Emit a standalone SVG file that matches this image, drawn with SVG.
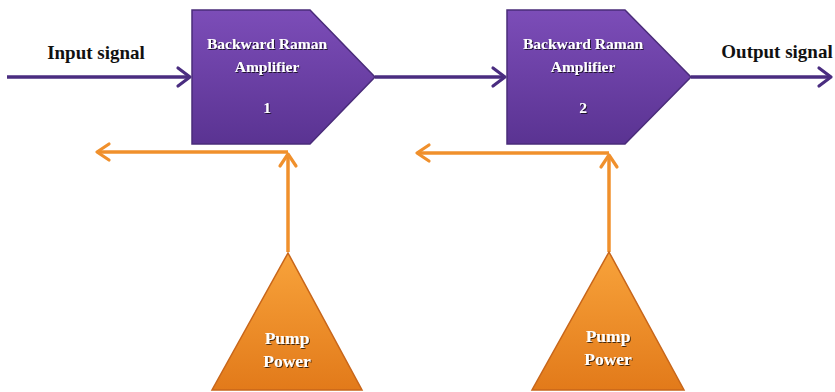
<svg xmlns="http://www.w3.org/2000/svg" width="835" height="392" viewBox="0 0 835 392">
<defs>
<linearGradient id="gPurple" x1="0" y1="0" x2="0" y2="1">
<stop offset="0" stop-color="#7C4DB8"/>
<stop offset="1" stop-color="#5A3392"/>
</linearGradient>
<linearGradient id="gOrange" x1="0" y1="0" x2="0" y2="1">
<stop offset="0" stop-color="#F8A33B"/>
<stop offset="1" stop-color="#E27A1A"/>
</linearGradient>
<marker id="aPurple" markerUnits="userSpaceOnUse" markerWidth="20" markerHeight="24" refX="15" refY="12" orient="auto">
<path d="M3,3 L15,12 L3,21" fill="none" stroke="#4A2D80" stroke-width="3.2" stroke-linecap="round" stroke-linejoin="round"/>
</marker>
<marker id="aOrange" markerUnits="userSpaceOnUse" markerWidth="20" markerHeight="24" refX="15" refY="12" orient="auto">
<path d="M3,4 L15,12 L3,20" fill="none" stroke="#F0902C" stroke-width="3.2" stroke-linecap="round" stroke-linejoin="round"/>
</marker>
<filter id="sh" x="-10%" y="-10%" width="130%" height="140%">
<feDropShadow dx="1" dy="1" stdDeviation="0.6" flood-color="#000" flood-opacity="0.7"/>
</filter>
</defs>
<style>
.sig{fill:none;stroke:#4A2D80;stroke-width:3.5;marker-end:url(#aPurple)}
.pump{fill:none;stroke:#F0902C;stroke-width:3.5}
.amp{fill:url(#gPurple);stroke:#4A2C7A;stroke-width:1.5}
.tri{fill:url(#gOrange);stroke:#C8661A;stroke-width:1.5}
.lbl{font-family:"Liberation Serif",serif;font-weight:bold;font-size:19px;fill:#111}
.in{font-family:"Liberation Serif",serif;font-weight:bold;font-size:15.5px;fill:#fff;text-anchor:middle}
.pp{font-size:17.5px}
</style>
<rect width="835" height="392" fill="#fff"/>
<g id="connectors">
<line class="sig" x1="7" y1="77" x2="190" y2="77"/>
<line class="sig" x1="375" y1="77" x2="505" y2="77"/>
<line class="sig" x1="691" y1="77" x2="831" y2="77"/>
<line class="pump" x1="288" y1="152" x2="97" y2="152" style="marker-end:url(#aOrange)"/>
<line class="pump" x1="288" y1="252" x2="288" y2="154" style="marker-end:url(#aOrange)"/>
<line class="pump" x1="609" y1="153" x2="417" y2="153" style="marker-end:url(#aOrange)"/>
<line class="pump" x1="609" y1="252" x2="609" y2="155" style="marker-end:url(#aOrange)"/>
</g>
<g id="input-label"><text class="lbl" x="96" y="59" text-anchor="middle">Input signal</text></g>
<g id="output-label"><text class="lbl" x="777" y="58" text-anchor="middle">Output signal</text></g>
<g id="amp1">
<path class="amp" d="M192,10 L310,10 L375,77 L310,144 L192,144 Z"/>
<g filter="url(#sh)">
<text class="in" x="267" y="49">Backward Raman</text>
<text class="in" x="267" y="72">Amplifier</text>
<text class="in" x="267" y="113">1</text>
</g>
</g>
<g id="amp2">
<path class="amp" d="M507,10 L625,10 L691,77 L625,144 L507,144 Z"/>
<g filter="url(#sh)">
<text class="in" x="583" y="49">Backward Raman</text>
<text class="in" x="583" y="72">Amplifier</text>
<text class="in" x="583" y="113">2</text>
</g>
</g>
<g id="pump1">
<path class="tri" d="M288,253 L362,390 L212,390 Z"/>
<g filter="url(#sh)">
<text class="in pp" x="287" y="344">Pump</text>
<text class="in pp" x="287" y="367">Power</text>
</g>
</g>
<g id="pump2">
<path class="tri" d="M609,252 L684,390 L532,390 Z"/>
<g filter="url(#sh)">
<text class="in pp" x="608" y="342">Pump</text>
<text class="in pp" x="608" y="365">Power</text>
</g>
</g>
</svg>
